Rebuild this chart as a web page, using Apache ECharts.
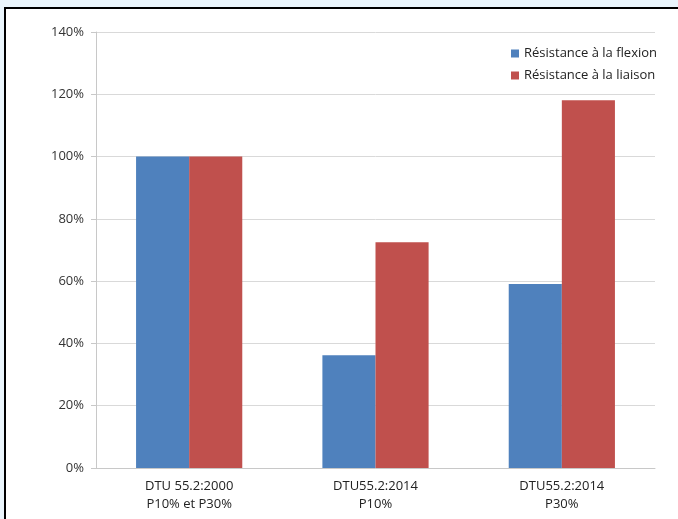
<!DOCTYPE html>
<html>
<head>
<meta charset="utf-8">
<script src="https://cdn.jsdelivr.net/npm/echarts@6/dist/echarts.min.js"></script>
<style>
  html, body { margin: 0; padding: 0; background: #eaf5fc; overflow: hidden; }
  #frame {
    position: absolute; left: 4px; top: 7px; width: 690px; height: 530px;
    border: 2px solid #000; background: #fff;
  }
  #chart { position: absolute; left: 0; top: 0; width: 678px; height: 519px; }
</style>
</head>
<body>
<div id="frame"></div>
<div id="chart"></div>
<script>
const categories = ['DTU 55.2:2000\nP10% et P30%', 'DTU55.2:2014\nP10%', 'DTU55.2:2014\nP30%']
const flexion = [100, 36.2, 59.1]
const liaison = [100, 72.5, 118.1]
const seriesNames = ['Résistance à la flexion', 'Résistance à la liaison']

const chart = echarts.init(document.getElementById('chart'))
chart.setOption({
  backgroundColor: 'transparent',
  color: ['#4f81bd', '#c0504d'],
  textStyle: { fontFamily: 'Open Sans' },
  grid: { left: 96, right: 23, top: 32, bottom: 51 },
  legend: {
    orient: 'vertical',
    left: 506,
    top: 42,
    itemWidth: 8,
    itemHeight: 8,
    itemGap: 9,
    icon: 'rect',
    textStyle: { fontSize: 13, color: '#222' },
    data: seriesNames
  },
  xAxis: {
    type: 'category',
    data: categories,
    axisLine: { lineStyle: { color: '#c8c8c8' } },
    axisTick: { length: 5, lineStyle: { color: '#c8c8c8' } },
    axisLabel: { fontSize: 13, color: '#222', lineHeight: 18, margin: 9 }
  },
  yAxis: {
    type: 'value',
    min: 0,
    max: 140,
    interval: 20,
    axisLine: { show: true, lineStyle: { color: '#c8c8c8' } },
    axisTick: { show: true, length: 5, lineStyle: { color: '#c8c8c8' } },
    splitLine: { lineStyle: { color: '#d9d9d9' } },
    axisLabel: { fontSize: 13, color: '#333', margin: 12, formatter: '{value}%' }
  },
  series: [
    { name: seriesNames[0], type: 'bar', data: flexion, barGap: '0%', barCategoryGap: '43%' },
    { name: seriesNames[1], type: 'bar', data: liaison, barGap: '0%', barCategoryGap: '43%' }
  ]
})
</script>
</body>
</html>
